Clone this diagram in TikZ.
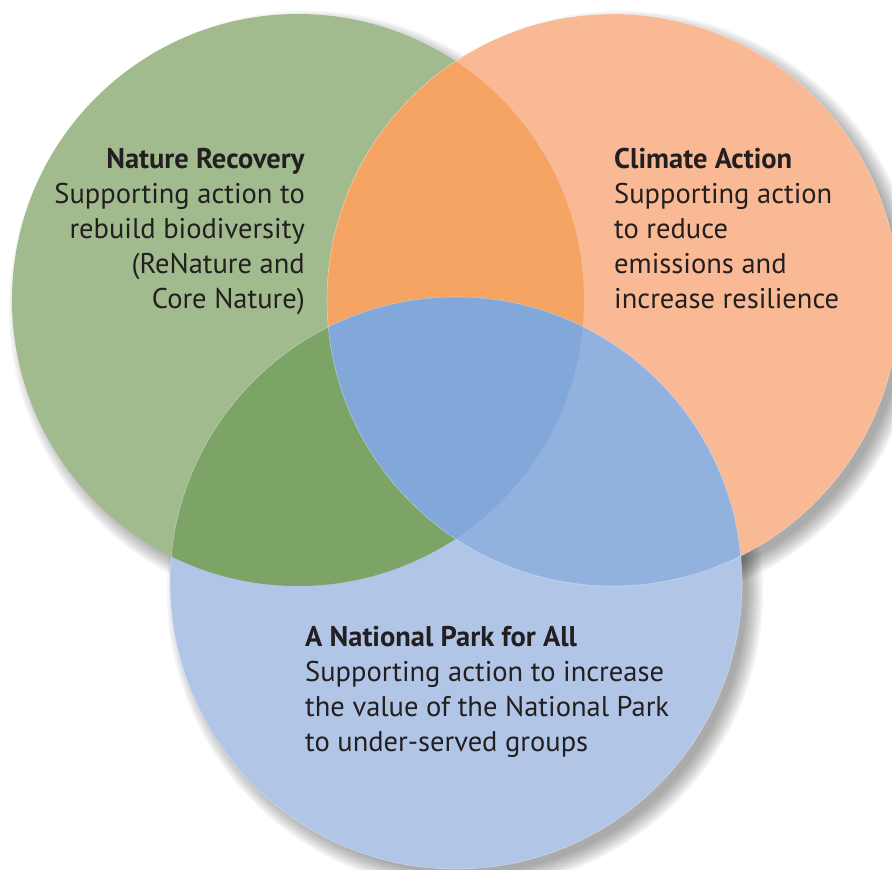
\documentclass[tikz,border=0pt]{standalone}
\usepackage{fontspec}
\setmainfont{PT Sans}
\usetikzlibrary{positioning}

\definecolor{greenonly}{HTML}{A2BB8E}
\definecolor{orangeonly}{HTML}{F9B994}
\definecolor{blueonly}{HTML}{B1C6E6}
\definecolor{greenorange}{HTML}{F6A463}
\definecolor{greenblue}{HTML}{7BA466}
\definecolor{orangeblue}{HTML}{91B1DE}
\definecolor{allthree}{HTML}{82A7D9}
\definecolor{inkdark}{HTML}{231F20}

\newcommand{\rad}{286pt}

\begin{document}
\begin{tikzpicture}[x=1pt,y=-1pt,
  setlabel/.style={font=\fontsize{28.5}{35}\selectfont, text=inkdark, inner sep=0pt},
  rim/.style={draw=white, draw opacity=0.35, line width=0.6pt}]
\useasboundingbox (0,0) rectangle (892,870);

\coordinate (G) at (298,300);
\coordinate (O) at (613,300);
\coordinate (B) at (456,583);

% soft shadow
\foreach \c in {G,O,B}{
  \foreach \s in {-4,-2,...,12}
    \fill[black, opacity=0.045] ([shift={(9,9)}]\c) circle[radius=\rad+\s pt];
}

% circles
\fill[greenonly] (G) circle[radius=\rad];
\fill[orangeonly] (O) circle[radius=\rad];
\fill[blueonly] (B) circle[radius=\rad];

% overlaps
\begin{scope}
  \clip (G) circle[radius=\rad];
  \fill[greenorange] (O) circle[radius=\rad];
  \fill[greenblue] (B) circle[radius=\rad];
\end{scope}
\begin{scope}
  \clip (O) circle[radius=\rad];
  \fill[orangeblue] (B) circle[radius=\rad];
\end{scope}
\begin{scope}
  \clip (G) circle[radius=\rad];
  \clip (O) circle[radius=\rad];
  \fill[allthree] (B) circle[radius=\rad];
\end{scope}
\draw[rim] (B) circle[radius=\rad];
\draw[rim] (O) circle[radius=\rad];

% labels
\node[setlabel, align=right, anchor=north east] (nature) at (305,148)
  {\textbf{Nature Recovery}\\Supporting action to\\rebuild biodiversity\\(ReNature and\\Core Nature)};
\node[setlabel, align=left, anchor=north west] (climate) at (614,148)
  {\textbf{Climate Action}\\Supporting action\\to reduce\\emissions and\\increase resilience};
\node[setlabel, align=left, anchor=north west] (park) at (305,626)
  {\textbf{A National Park for All}\\Supporting action to increase\\the value of the National Park\\to under-served groups};
\end{tikzpicture}
\end{document}
